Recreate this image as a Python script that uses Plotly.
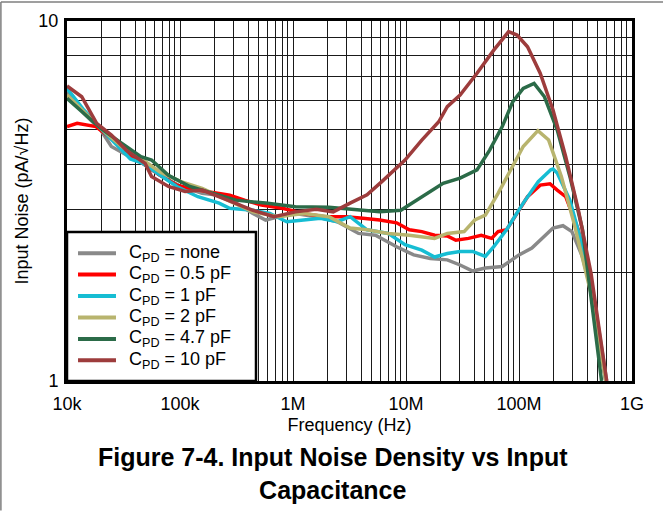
import plotly.graph_objects as go

# frequency (Hz) and input noise (pA/rtHz)
freq_none = [10e3, 14.1e3, 19.9e3, 24.7e3, 33.4e3, 47.1e3, 66.5e3, 102e3, 157e3, 222e3, 313e3, 442e3,
             572e3, 741e3, 1.05e6, 1.61e6, 2.47e6, 3.8e6, 5.37e6, 8.26e6, 11.7e6, 16.4e6, 23.2e6, 30.1e6,
             38.9e6, 50.4e6, 71.1e6, 100e6, 130e6, 161e6, 200e6, 245e6, 294e6, 365e6, 473e6, 597e6]
noise_none = [6.36, 5.54, 4.98, 4.48, 4.25, 4.02, 3.73, 3.47, 3.32, 3.28, 3.12, 2.92,
              2.8, 2.86, 2.92, 2.86, 2.77, 2.57, 2.54, 2.36, 2.24, 2.19, 2.17, 2.1,
              2.02, 2.06, 2.08, 2.24, 2.34, 2.49, 2.66, 2.7, 2.6, 2.21, 1.61, 1.0]

freq_05 = [10e3, 12.3e3, 18e3, 25.8e3, 33.4e3, 47.1e3, 66.5e3, 93.8e3, 144e3, 222e3, 275e3, 372e3,
           525e3, 807e3, 1.24e6, 1.91e6, 2.94e6, 4.15e6, 5.85e6, 8.26e6, 10.7e6, 13.8e6, 17.9e6, 23.2e6,
           27.6e6, 35.7e6, 46.3e6, 57.3e6, 65.3e6, 77.5e6, 92.1e6, 119e6, 154e6, 188e6, 218e6, 259e6,
           335e6, 434e6, 587e6]
noise_05 = [5.09, 5.2, 5.09, 4.67, 4.33, 4.02, 3.73, 3.5, 3.39, 3.32, 3.28, 3.18,
            3.08, 3.02, 2.92, 2.86, 2.86, 2.83, 2.8, 2.75, 2.63, 2.6, 2.54, 2.53,
            2.46, 2.49, 2.54, 2.49, 2.6, 2.63, 2.86, 3.25, 3.5, 3.53, 3.39, 3.25,
            2.63, 1.79, 1.0]

freq_1 = [10e3, 14.1e3, 19.9e3, 28.1e3, 36.4e3, 47.1e3, 66.5e3, 93.8e3, 144e3, 222e3, 275e3, 442e3,
          624e3, 880e3, 1.24e6, 1.75e6, 2.47e6, 3.2e6, 4.52e6, 6.95e6, 9.8e6, 13.8e6, 17.9e6, 23.2e6,
          30.1e6, 38.9e6, 50.4e6, 59.8e6, 77.5e6, 109e6, 148e6, 191e6, 200e6, 218e6, 282e6, 365e6,
          473e6, 587e6]
noise_1 = [6.5, 5.66, 5.03, 4.48, 4.14, 4.02, 3.73, 3.47, 3.25, 3.12, 3.02, 2.98,
           2.92, 2.77, 2.8, 2.83, 2.77, 2.86, 2.63, 2.57, 2.39, 2.31, 2.21, 2.26,
           2.29, 2.29, 2.22, 2.36, 2.63, 3.12, 3.58, 3.86, 3.88, 3.78, 3.18, 2.36,
           1.57, 1.0]

freq_2 = [10e3, 14.1e3, 19.9e3, 30.6e3, 47.1e3, 66.5e3, 102e3, 157e3, 264e3, 442e3, 741e3, 1.24e6,
          2.08e6, 3.2e6, 4.52e6, 6.95e6, 10.7e6, 17.9e6, 23.2e6, 32.7e6, 40.6e6, 50.4e6, 65.3e6, 84.5e6,
          109e6, 147e6, 183e6, 237e6, 307e6, 434e6, 587e6]
noise_2 = [6.23, 5.6, 5.03, 4.48, 4.11, 3.81, 3.58, 3.43, 3.18, 2.95, 2.86, 2.92,
           2.86, 2.66, 2.63, 2.57, 2.54, 2.49, 2.57, 2.6, 2.8, 2.89, 3.32, 3.86,
           4.48, 4.96, 4.67, 3.7, 2.74, 1.75, 1.0]

freq_47 = [10e3, 14.1e3, 19.9e3, 30.6e3, 45.1e3, 56e3, 79e3, 122e3, 187e3, 313e3, 572e3, 1.05e6,
           2.08e6, 3.8e6, 5.85e6, 9.0e6, 13.8e6, 21.3e6, 30.1e6, 42.5e6, 55e6, 71.1e6, 88.2e6, 109e6,
           136e6, 168e6, 218e6, 282e6, 365e6, 538e6]
noise_47 = [6.1, 5.54, 5.03, 4.57, 4.2, 4.11, 3.73, 3.47, 3.34, 3.18, 3.12, 3.05,
            3.04, 2.98, 2.95, 2.98, 3.25, 3.54, 3.66, 3.86, 4.38, 5.09, 5.97, 6.5,
            6.71, 6.16, 4.98, 3.7, 2.63, 1.0]

freq_10 = [10e3, 13.5e3, 18.3e3, 24.7e3, 33.4e3, 49.2e3, 56e3, 79e3, 111e3, 157e3, 264e3, 442e3,
           680e3, 1.05e6, 1.61e6, 2.27e6, 3.2e6, 4.52e6, 6.11e6, 7.91e6, 9.8e6, 13.8e6, 19.5e6, 23.2e6,
           30.1e6, 42.5e6, 59.8e6, 80.9e6, 96.1e6, 119e6, 154e6, 200e6, 259e6, 335e6, 434e6, 597e6]
noise_10 = [6.6, 6.16, 5.2, 4.82, 4.38, 4.02, 3.7, 3.47, 3.36, 3.39, 3.18, 2.98,
            2.86, 2.95, 3.0, 2.95, 3.12, 3.29, 3.58, 3.86, 4.11, 4.67, 5.25, 5.78,
            6.23, 7.16, 8.3, 9.34, 9.14, 8.48, 7.16, 5.66, 4.2, 2.99, 1.99, 1.0]

series_names = ["C<sub>PD</sub> = none", "C<sub>PD</sub> = 0.5 pF", "C<sub>PD</sub> = 1 pF",
                "C<sub>PD</sub> = 2 pF", "C<sub>PD</sub> = 4.7 pF", "C<sub>PD</sub> = 10 pF"]
series_colors = ["#898989", "#ff0000", "#16bdd3", "#b8b46e", "#2b6b48", "#9d3c3c"]

x_tick_labels = {1e4: "10k", 1e5: "100k", 1e6: "1M", 1e7: "10M", 1e8: "100M", 1e9: "1G"}
y_tick_labels = {1: "1", 10: "10"}

FONT = "Liberation Sans, Arial, sans-serif"

# gridlines at every 1..9 x decade
x_vals, x_text = [], []
for dec in [1e4, 1e5, 1e6, 1e7, 1e8]:
    for m in range(1, 10):
        v = m * dec
        x_vals.append(v)
        x_text.append(x_tick_labels.get(v, ""))
x_vals.append(1e9)
x_text.append(x_tick_labels[1e9])

y_vals = list(range(1, 11))
y_text = [y_tick_labels.get(v, "") for v in y_vals]

fig = go.Figure()
all_freq = [freq_none, freq_05, freq_1, freq_2, freq_47, freq_10]
all_noise = [noise_none, noise_05, noise_1, noise_2, noise_47, noise_10]
for f, n, name, col in zip(all_freq, all_noise, series_names, series_colors):
    fig.add_trace(go.Scatter(x=f, y=n, mode="lines", name=name, showlegend=False,
                             line=dict(color=col, width=3.5)))

axis_common = dict(
    type="log", showline=True, linecolor="black", linewidth=3, mirror=True,
    showgrid=True, gridcolor="#1a1a1a", gridwidth=1, ticks="", zeroline=False,
    automargin=False,
    tickfont=dict(family=FONT, size=18, color="black"),
)

fig.update_xaxes(**axis_common, range=[4, 9], tickmode="array", tickvals=x_vals, ticktext=x_text,
                 ticklabelstandoff=4,
                 title=dict(text="Frequency (Hz)", font=dict(family=FONT, size=18, color="black"),
                            standoff=6))
fig.update_yaxes(**axis_common, range=[0, 1], tickmode="array", tickvals=y_vals, ticktext=y_text,
                 ticklabelstandoff=2,
                 title=dict(text="Input Noise (pA/√Hz)", font=dict(family=FONT, size=18, color="black"),
                            standoff=6))

# boxed legend in the lower-left corner of the plot (paper coords)
leg_x1, leg_y1 = 0.3345, 0.414
fig.add_shape(type="rect", xref="paper", yref="paper", x0=0, y0=0, x1=leg_x1, y1=leg_y1,
              fillcolor="white", line=dict(color="black", width=2.5), layer="above")
row_top, row_step = 0.355, 0.0595
for i, (name, col) in enumerate(zip(series_names, series_colors)):
    ry = row_top - i * row_step
    fig.add_shape(type="line", xref="paper", yref="paper", x0=0.0195, x1=0.0867, y0=ry, y1=ry,
                  line=dict(color=col, width=4), layer="above")
    fig.add_annotation(xref="paper", yref="paper", x=0.106, y=ry, xanchor="left", yanchor="middle",
                       text=name, showarrow=False, font=dict(family=FONT, size=18, color="black"))

# caption under the chart
fig.add_annotation(
    xref="paper", yref="paper", x=0.471, y=-0.168, xanchor="center", yanchor="top",
    text="<b>Figure 7-4. Input Noise Density vs Input<br>Capacitance</b>",
    showarrow=False, font=dict(family=FONT, size=25, color="black"), align="center",
)

# thin grey page border on the top and left
fig.add_shape(type="line", xref="paper", yref="paper", x0=-0.117, x1=1.06, y0=1.0528, y1=1.0528,
              line=dict(color="#7f7f7f", width=1.5))
fig.add_shape(type="line", xref="paper", yref="paper", x0=-0.117, x1=-0.117, y0=-0.36, y1=1.0528,
              line=dict(color="#7f7f7f", width=1.5))

fig.update_layout(
    width=663, height=512,
    margin=dict(l=67, r=31, t=21, b=131),
    paper_bgcolor="white", plot_bgcolor="white",
    font=dict(family=FONT, color="black"),
    showlegend=False,
)

fig.write_html("out.html", config={"displayModeBar": False},
               post_script="document.body.style.margin='0px';")
